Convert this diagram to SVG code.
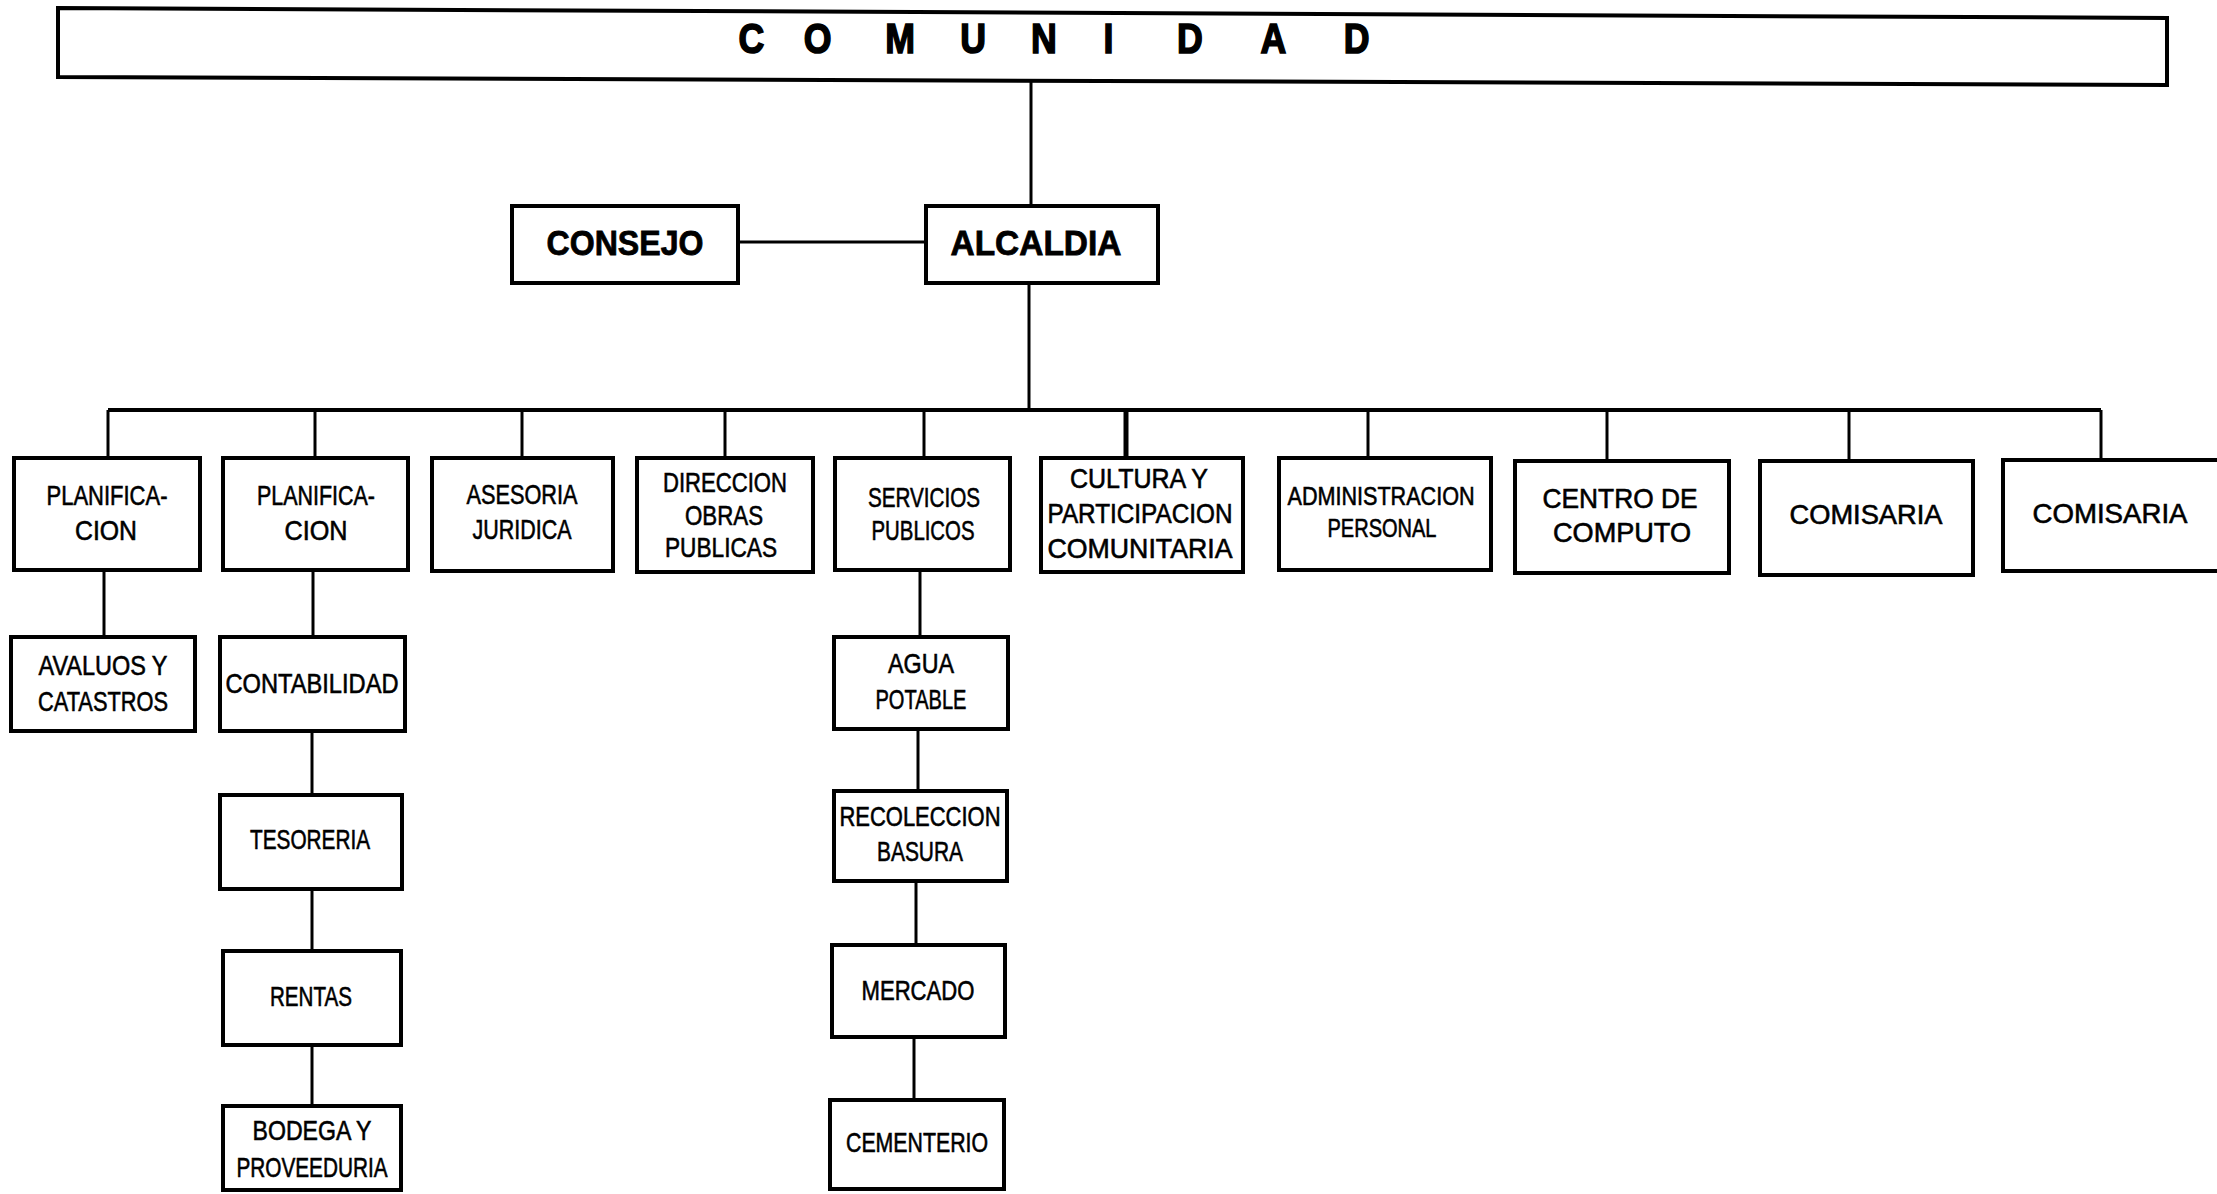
<svg xmlns="http://www.w3.org/2000/svg" width="2217" height="1194" viewBox="0 0 2217 1194">
<style>
.box{fill:#fff;stroke:#000;stroke-width:4}
.conn{stroke:#000;stroke-width:3;fill:none}
.t{font-family:"Liberation Sans",Arial,sans-serif;font-size:28px;text-anchor:middle;fill:#000;stroke:#000;stroke-width:0.6}
.tb{font-family:"Liberation Sans",Arial,sans-serif;font-size:35px;font-weight:bold;text-anchor:middle;fill:#000;stroke:#000;stroke-width:0.8}
.title{font-family:"Liberation Sans",Arial,sans-serif;font-size:42px;font-weight:bold;text-anchor:middle;fill:#000;stroke:#000;stroke-width:1.6}
</style>
<rect width="2217" height="1194" fill="#fff"/>
<g id="connectors">
<line class="conn" x1="1031" y1="80" x2="1031" y2="206"/>
<line class="conn" x1="738" y1="242" x2="926" y2="242"/>
<line class="conn" x1="1029" y1="283" x2="1029" y2="410"/>
<line class="conn" style="stroke-width:4" x1="108" y1="410" x2="2101" y2="410"/>
<line class="conn" x1="108" y1="410" x2="108" y2="458"/>
<line class="conn" x1="315" y1="410" x2="315" y2="458"/>
<line class="conn" x1="522" y1="410" x2="522" y2="458"/>
<line class="conn" x1="725" y1="410" x2="725" y2="458"/>
<line class="conn" x1="924" y1="410" x2="924" y2="458"/>
<line class="conn" style="stroke-width:5" x1="1126" y1="410" x2="1126" y2="458"/>
<line class="conn" x1="1368" y1="410" x2="1368" y2="458"/>
<line class="conn" x1="1607" y1="410" x2="1607" y2="461"/>
<line class="conn" x1="1849" y1="410" x2="1849" y2="461"/>
<line class="conn" x1="2101" y1="410" x2="2101" y2="460"/>
<line class="conn" x1="104" y1="570" x2="104" y2="637"/>
<line class="conn" x1="313" y1="570" x2="313" y2="637"/>
<line class="conn" x1="312" y1="731" x2="312" y2="795"/>
<line class="conn" x1="312" y1="889" x2="312" y2="951"/>
<line class="conn" x1="312" y1="1045" x2="312" y2="1106"/>
<line class="conn" x1="920" y1="570" x2="920" y2="637"/>
<line class="conn" x1="918" y1="729" x2="918" y2="791"/>
<line class="conn" x1="916" y1="881" x2="916" y2="945"/>
<line class="conn" x1="914" y1="1037" x2="914" y2="1100"/>
</g>
<g id="comunidad">
<polygon class="box" points="58,8 2167,18 2167,85 58,77"/>
<g transform="scale(0.85 1)">
<text class="title" x="884 962 1059 1145 1228 1304 1400 1498 1596" y="53">COMUNIDAD</text>
</g>
</g>
<g id="consejo">
<rect class="box" x="512" y="206" width="226" height="77"/>
<text class="tb" x="625" y="255" textLength="157" lengthAdjust="spacingAndGlyphs">CONSEJO</text>
</g>
<g id="alcaldia">
<rect class="box" x="926" y="206" width="232" height="77"/>
<text class="tb" x="1036" y="255" textLength="171" lengthAdjust="spacingAndGlyphs">ALCALDIA</text>
</g>
<g id="planificacion1">
<rect class="box" x="14" y="458" width="186" height="112"/>
<text class="t" x="107" y="505" textLength="121" lengthAdjust="spacingAndGlyphs">PLANIFICA-</text>
<text class="t" x="106" y="540" textLength="62" lengthAdjust="spacingAndGlyphs">CION</text>
</g>
<g id="planificacion2">
<rect class="box" x="223" y="458" width="185" height="112"/>
<text class="t" x="316" y="505" textLength="118" lengthAdjust="spacingAndGlyphs">PLANIFICA-</text>
<text class="t" x="316" y="540" textLength="63" lengthAdjust="spacingAndGlyphs">CION</text>
</g>
<g id="asesoria">
<rect class="box" x="432" y="458" width="181" height="113"/>
<text class="t" x="522" y="504" textLength="111" lengthAdjust="spacingAndGlyphs">ASESORIA</text>
<text class="t" x="522" y="539" textLength="99" lengthAdjust="spacingAndGlyphs">JURIDICA</text>
</g>
<g id="direccion">
<rect class="box" x="637" y="458" width="176" height="114"/>
<text class="t" x="725" y="492" textLength="124" lengthAdjust="spacingAndGlyphs">DIRECCION</text>
<text class="t" x="724" y="525" textLength="78" lengthAdjust="spacingAndGlyphs">OBRAS</text>
<text class="t" x="721" y="557" textLength="112" lengthAdjust="spacingAndGlyphs">PUBLICAS</text>
</g>
<g id="servicios">
<rect class="box" x="835" y="458" width="175" height="112"/>
<text class="t" x="924" y="507" textLength="112" lengthAdjust="spacingAndGlyphs">SERVICIOS</text>
<text class="t" x="923" y="540" textLength="103" lengthAdjust="spacingAndGlyphs">PUBLICOS</text>
</g>
<g id="cultura">
<rect class="box" x="1041" y="458" width="202" height="114"/>
<text class="t" x="1139" y="488" textLength="138" lengthAdjust="spacingAndGlyphs">CULTURA Y</text>
<text class="t" x="1140" y="523" textLength="185" lengthAdjust="spacingAndGlyphs">PARTICIPACION</text>
<text class="t" x="1140" y="558" textLength="185" lengthAdjust="spacingAndGlyphs">COMUNITARIA</text>
</g>
<g id="administracion">
<rect class="box" x="1279" y="458" width="212" height="112"/>
<text class="t" x="1381" y="505" textLength="187" lengthAdjust="spacingAndGlyphs" style="font-size:26px">ADMINISTRACION</text>
<text class="t" x="1382" y="537" textLength="109" lengthAdjust="spacingAndGlyphs" style="font-size:26px">PERSONAL</text>
</g>
<g id="centro">
<rect class="box" x="1515" y="461" width="214" height="112"/>
<text class="t" x="1620" y="508" textLength="155" lengthAdjust="spacingAndGlyphs">CENTRO DE</text>
<text class="t" x="1622" y="542" textLength="138" lengthAdjust="spacingAndGlyphs">COMPUTO</text>
</g>
<g id="comisaria1">
<rect class="box" x="1760" y="461" width="213" height="114"/>
<text class="t" x="1866" y="524" textLength="153" lengthAdjust="spacingAndGlyphs">COMISARIA</text>
</g>
<g id="comisaria2">
<rect class="box" x="2003" y="460" width="222" height="111"/>
<text class="t" x="2110" y="523" textLength="155" lengthAdjust="spacingAndGlyphs">COMISARIA</text>
</g>
<g id="avaluos">
<rect class="box" x="11" y="637" width="184" height="94"/>
<text class="t" x="103" y="675" textLength="129" lengthAdjust="spacingAndGlyphs">AVALUOS Y</text>
<text class="t" x="103" y="711" textLength="130" lengthAdjust="spacingAndGlyphs">CATASTROS</text>
</g>
<g id="contabilidad">
<rect class="box" x="220" y="637" width="185" height="94"/>
<text class="t" x="312" y="693" textLength="173" lengthAdjust="spacingAndGlyphs">CONTABILIDAD</text>
</g>
<g id="tesoreria">
<rect class="box" x="220" y="795" width="182" height="94"/>
<text class="t" x="310" y="849" textLength="120" lengthAdjust="spacingAndGlyphs">TESORERIA</text>
</g>
<g id="rentas">
<rect class="box" x="223" y="951" width="178" height="94"/>
<text class="t" x="311" y="1006" textLength="82" lengthAdjust="spacingAndGlyphs">RENTAS</text>
</g>
<g id="bodega">
<rect class="box" x="223" y="1106" width="178" height="84"/>
<text class="t" x="312" y="1140" textLength="119" lengthAdjust="spacingAndGlyphs">BODEGA Y</text>
<text class="t" x="312" y="1177" textLength="151" lengthAdjust="spacingAndGlyphs">PROVEEDURIA</text>
</g>
<g id="agua">
<rect class="box" x="834" y="637" width="174" height="92"/>
<text class="t" x="921" y="673" textLength="66" lengthAdjust="spacingAndGlyphs">AGUA</text>
<text class="t" x="921" y="709" textLength="91" lengthAdjust="spacingAndGlyphs">POTABLE</text>
</g>
<g id="recoleccion">
<rect class="box" x="834" y="791" width="173" height="90"/>
<text class="t" x="920" y="826" textLength="161" lengthAdjust="spacingAndGlyphs">RECOLECCION</text>
<text class="t" x="920" y="861" textLength="86" lengthAdjust="spacingAndGlyphs">BASURA</text>
</g>
<g id="mercado">
<rect class="box" x="832" y="945" width="173" height="92"/>
<text class="t" x="918" y="1000" textLength="113" lengthAdjust="spacingAndGlyphs">MERCADO</text>
</g>
<g id="cementerio">
<rect class="box" x="830" y="1100" width="174" height="89"/>
<text class="t" x="917" y="1152" textLength="142" lengthAdjust="spacingAndGlyphs">CEMENTERIO</text>
</g>
</svg>
